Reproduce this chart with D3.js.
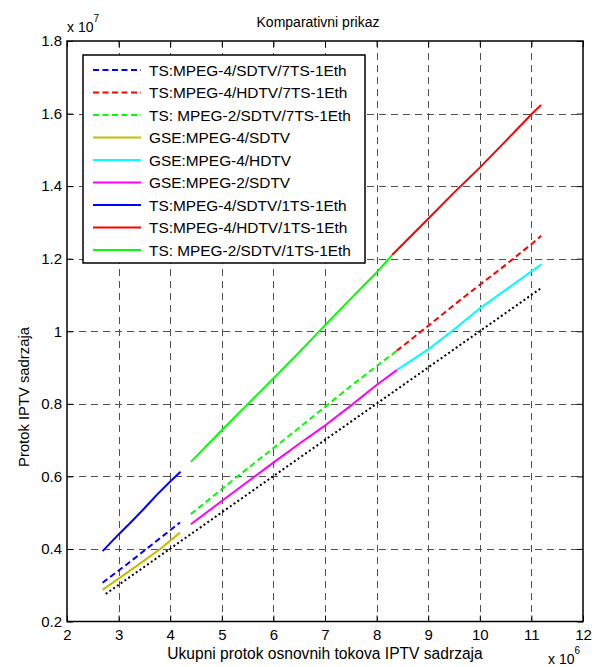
<!DOCTYPE html>
<html lang="sr">
<head>
<meta charset="UTF-8">
<title>Komparativni prikaz</title>
<style>
    body { margin: 0; padding: 0; background: #fff; }
    svg { display: block; }
    text { font-family: 'Liberation Sans', Arial, sans-serif; fill: #000; }
</style>
</head>
<body>
<svg id="chart" width="594" height="667"></svg>
<script src="https://d3js.org/d3.v7.min.js"></script>
<script>
// x in units of 1e6, y in units of 1e7
const xTicks = [2, 3, 4, 5, 6, 7, 8, 9, 10, 11, 12];
const yTicks = [0.2, 0.4, 0.6, 0.8, 1.0, 1.2, 1.4, 1.6, 1.8];
const yTickLabels = ["0.2", "0.4", "0.6", "0.8", "1", "1.2", "1.4", "1.6", "1.8"];

const legendNames = [
    "TS:MPEG-4/SDTV/7TS-1Eth",
    "TS:MPEG-4/HDTV/7TS-1Eth",
    "TS: MPEG-2/SDTV/7TS-1Eth",
    "GSE:MPEG-4/SDTV",
    "GSE:MPEG-4/HDTV",
    "GSE:MPEG-2/SDTV",
    "TS:MPEG-4/SDTV/1TS-1Eth",
    "TS:MPEG-4/HDTV/1TS-1Eth",
    "TS: MPEG-2/SDTV/1TS-1Eth"
];

// series data
const ts4sd7X = [2.69, 3.2, 3.7, 4.19];
const ts4sd7Y = [0.307, 0.362, 0.418, 0.473];

const ts4hd7X = [8.39, 9.0, 9.62, 10.0, 10.5, 11.0, 11.19];
const ts4hd7Y = [0.946, 1.015, 1.086, 1.128, 1.183, 1.240, 1.263];

const ts2sd7X = [4.4, 5.0, 5.5, 6.0, 6.5, 7.03, 7.5, 8.0, 8.39];
const ts2sd7Y = [0.496, 0.565, 0.622, 0.678, 0.734, 0.795, 0.849, 0.904, 0.946];

const gse4sdX = [2.69, 3.0, 3.4, 3.8, 4.19];
const gse4sdY = [0.287, 0.318, 0.358, 0.399, 0.445];

const gse4hdX = [8.39, 9.0, 9.5, 10.0, 10.5, 11.0, 11.2];
const gse4hdY = [0.893, 0.950, 1.005, 1.063, 1.114, 1.165, 1.185];

const gse2sdX = [4.4, 5.0, 5.5, 6.0, 6.5, 6.97, 7.5, 8.0, 8.39];
const gse2sdY = [0.468, 0.532, 0.585, 0.638, 0.690, 0.737, 0.795, 0.852, 0.893];

const ts4sd1X = [2.69, 3.0, 3.22, 3.5, 3.74, 4.0, 4.2];
const ts4sd1Y = [0.394, 0.440, 0.471, 0.512, 0.549, 0.586, 0.613];

const ts4hd1X = [8.3, 9.0, 9.5, 10.0, 10.5, 11.0, 11.19];
const ts4hd1Y = [1.21, 1.31, 1.382, 1.451, 1.524, 1.598, 1.624];

const ts2sd1X = [4.4, 5.0, 5.55, 6.0, 6.5, 6.97, 7.5, 8.0, 8.3];
const ts2sd1Y = [0.640, 0.727, 0.806, 0.870, 0.942, 1.012, 1.090, 1.162, 1.21];

// reference (dotted, not in legend)
const refX = [2.75, 11.17];
const refY = [0.276, 1.117];

const svg = d3.select("#chart");

const plotLeft = 67, plotRight = 583, plotTop = 41, plotBottom = 621.5;
const x = d3.scaleLinear().domain([2, 12]).range([plotLeft, plotRight]);
const y = d3.scaleLinear().domain([0.2, 1.8]).range([plotBottom, plotTop]);

// grid
const grid = svg.append("g").attr("stroke", "#505050").attr("stroke-width", 1)
    .attr("stroke-dasharray", "7,5").attr("fill", "none");
xTicks.slice(1, -1).forEach(t => {
    grid.append("line").attr("x1", Math.round(x(t)) + 0.5).attr("x2", Math.round(x(t)) + 0.5)
        .attr("y1", plotTop).attr("y2", plotBottom);
});
yTicks.slice(1, -1).forEach(t => {
    grid.append("line").attr("y1", Math.round(y(t)) + 0.5).attr("y2", Math.round(y(t)) + 0.5)
        .attr("x1", plotLeft).attr("x2", plotRight);
});

// axes (ticks pointing inward, on all four sides)
const tickLen = 6;
svg.append("g").attr("transform", `translate(0,${plotBottom})`)
    .call(d3.axisBottom(x).tickValues(xTicks).tickSize(-tickLen).tickPadding(8).tickFormat(d3.format("d")))
    .call(g => g.select(".domain").remove());
svg.append("g").attr("transform", `translate(0,${plotTop})`)
    .call(d3.axisTop(x).tickValues(xTicks).tickSize(-tickLen).tickFormat(""))
    .call(g => g.select(".domain").remove());
svg.append("g").attr("transform", `translate(${plotLeft},0)`)
    .call(d3.axisLeft(y).tickValues(yTicks).tickSize(-tickLen).tickPadding(5)
        .tickFormat((d, i) => yTickLabels[i]))
    .call(g => g.select(".domain").remove());
svg.append("g").attr("transform", `translate(${plotRight},0)`)
    .call(d3.axisRight(y).tickValues(yTicks).tickSize(-tickLen).tickFormat(""))
    .call(g => g.select(".domain").remove());
svg.selectAll(".tick text").attr("font-size", 15).attr("font-family", "'Liberation Sans', Arial, sans-serif");
svg.selectAll(".tick line").attr("stroke", "#000");

svg.append("rect").attr("x", plotLeft).attr("y", plotTop)
    .attr("width", plotRight - plotLeft).attr("height", plotBottom - plotTop)
    .attr("fill", "none").attr("stroke", "#000").attr("stroke-width", 1.5);

// series
const series = [
    { xs: refX, ys: refY, color: "#000", dash: "2,2.6", w: 2 },
    { xs: ts4sd7X, ys: ts4sd7Y, color: "#0000ff", dash: "6,3.5", w: 2 },
    { xs: ts4hd7X, ys: ts4hd7Y, color: "#ff0000", dash: "6,3.5", w: 2 },
    { xs: ts2sd7X, ys: ts2sd7Y, color: "#00ff00", dash: "6,3.5", w: 2 },
    { xs: gse4sdX, ys: gse4sdY, color: "#bfbf00", dash: null, w: 2 },
    { xs: gse4hdX, ys: gse4hdY, color: "#00ffff", dash: null, w: 2 },
    { xs: gse2sdX, ys: gse2sdY, color: "#ff00ff", dash: null, w: 2 },
    { xs: ts4sd1X, ys: ts4sd1Y, color: "#0000ff", dash: null, w: 2 },
    { xs: ts4hd1X, ys: ts4hd1Y, color: "#ff0000", dash: null, w: 2 },
    { xs: ts2sd1X, ys: ts2sd1Y, color: "#00ff00", dash: null, w: 2 }
];

const line = d3.line().x(d => x(d[0])).y(d => y(d[1]));
series.forEach(s => {
    svg.append("path")
        .datum(s.xs.map((v, i) => [v, s.ys[i]]))
        .attr("d", line)
        .attr("fill", "none")
        .attr("stroke", s.color)
        .attr("stroke-width", s.w)
        .attr("stroke-dasharray", s.dash);
});

// legend
const lg = svg.append("g");
lg.append("rect").attr("x", 83).attr("y", 55).attr("width", 282).attr("height", 208)
    .attr("fill", "#fff").attr("stroke", "#000").attr("stroke-width", 1.5);
series.slice(1).forEach((s, i) => {
    const cy = 70 + i * 22.5;
    lg.append("line").attr("x1", 93).attr("x2", 141).attr("y1", cy).attr("y2", cy)
        .attr("stroke", s.color).attr("stroke-width", 2).attr("stroke-dasharray", s.dash);
    lg.append("text").attr("x", 149).attr("y", cy + 5.5).attr("font-size", 15.4)
        .text(legendNames[i]);
});

// titles and labels
svg.append("text").attr("x", 318).attr("y", 27).attr("text-anchor", "middle")
    .attr("font-size", 14).text("Komparativni prikaz");

svg.append("text").attr("x", 325).attr("y", 659).attr("text-anchor", "middle")
    .attr("font-size", 15.6).text("Ukupni protok osnovnih tokova IPTV sadrzaja");

svg.append("text").attr("transform", "translate(29,397) rotate(-90)")
    .attr("text-anchor", "middle").attr("font-size", 14.8).text("Protok IPTV sadrzaja");

// exponent labels
const e7 = svg.append("text").attr("x", 67).attr("y", 32).attr("font-size", 14);
e7.append("tspan").text("x 10");
e7.append("tspan").attr("dy", -10).attr("font-size", 10).text("7");

const e6 = svg.append("text").attr("x", 548).attr("y", 664).attr("font-size", 14);
e6.append("tspan").text("x 10");
e6.append("tspan").attr("dy", -10).attr("font-size", 10).text("6");
</script>
</body>
</html>
